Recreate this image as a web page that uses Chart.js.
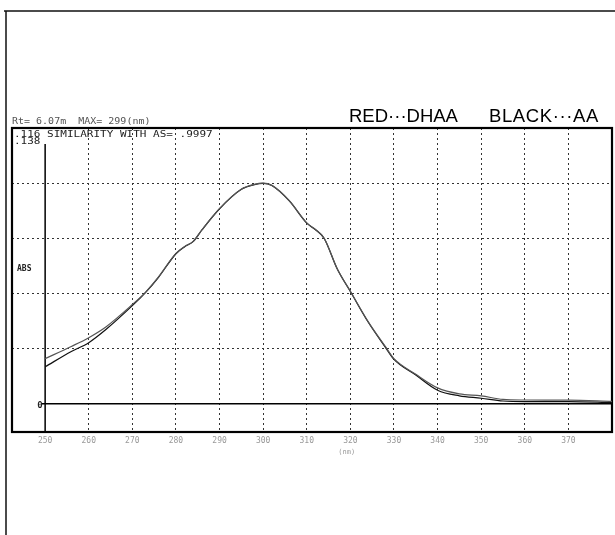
<!DOCTYPE html>
<html>
<head>
<meta charset="utf-8">
<script src="https://cdn.jsdelivr.net/npm/chart.js@4"></script>
<style>
  html, body { margin: 0; padding: 0; background: #fff; }
  #spectrum { display: block; }
</style>
</head>
<body>
<canvas id="spectrum" width="615" height="535"></canvas>
<script>
// wavelength (nm) and absorbance
const wavelengths = [250, 256, 260, 264, 270, 273, 276, 280, 282, 284, 286, 290, 295, 298, 300,
                     302, 306, 310, 312, 314, 317, 320, 324, 328, 330, 335, 340, 345, 350, 355,
                     360, 370, 380];
const dhaaAbs = [0.0226, 0.0287, 0.0331, 0.0386, 0.0497, 0.0558, 0.0635, 0.0753, 0.0787, 0.0814,
                 0.0872, 0.0977, 0.1074, 0.1098, 0.1104, 0.1093, 0.1016, 0.0905, 0.0872, 0.0828,
                 0.0675, 0.0563, 0.0414, 0.0287, 0.0226, 0.0148, 0.0080, 0.0050, 0.0040, 0.0022,
                 0.0019, 0.0018, 0.0012];
const aaAbs = [0.0185, 0.0262, 0.0306, 0.0373, 0.0491, 0.0556, 0.0633, 0.0751, 0.0786, 0.0813,
               0.0871, 0.0976, 0.1073, 0.1097, 0.1103, 0.1092, 0.1015, 0.0904, 0.0871, 0.0827,
               0.0674, 0.0562, 0.0412, 0.0284, 0.0222, 0.0144, 0.0068, 0.0040, 0.0028, 0.0014,
               0.0011, 0.0011, 0.0006];
const xTicks = [250, 260, 270, 280, 290, 300, 310, 320, 330, 340, 350, 360, 370];
const yTicks = [0, 0.0276, 0.0552, 0.0828, 0.1104, 0.138];

const toPoints = (ys) => wavelengths.map((w, i) => ({ x: w, y: ys[i] }));

// printer-style mono text, a bit squashed vertically
function monoText(ctx, text, x, y, size, color) {
    ctx.save();
    ctx.translate(x, y);
    ctx.scale(1, 0.8);
    ctx.fillStyle = color;
    ctx.font = size + 'px "DejaVu Sans Mono", monospace';
    ctx.fillText(text, 0, 0);
    ctx.restore();
}

// frame, solid axes and the printed annotations of the recorder
const recorderDecor = {
    id: 'recorderDecor',
    beforeDraw(chart) {
        const ctx = chart.ctx;
        ctx.save();
        ctx.fillStyle = '#fff';
        ctx.fillRect(0, 0, chart.width, chart.height);
        // page border
        ctx.strokeStyle = '#111';
        ctx.lineWidth = 1.5;
        ctx.beginPath();
        ctx.moveTo(4, 11);
        ctx.lineTo(chart.width, 11);
        ctx.moveTo(6, 11);
        ctx.lineTo(6, chart.height);
        ctx.stroke();
        ctx.restore();
    },
    beforeDatasetsDraw(chart) {
        const ctx = chart.ctx;
        const area = chart.chartArea;
        const x = chart.scales.x;
        const y = chart.scales.y;
        ctx.save();
        ctx.strokeStyle = '#000';
        ctx.lineWidth = 1.5;
        ctx.beginPath();
        const x0 = x.getPixelForValue(xTicks[0]);
        ctx.moveTo(x0, area.top + 16);
        ctx.lineTo(x0, area.bottom);
        const y0 = y.getPixelForValue(0);
        ctx.moveTo(x0 - 4, y0);
        ctx.lineTo(area.right, y0);
        ctx.stroke();
        ctx.lineWidth = 2.2;
        ctx.strokeRect(area.left, area.top, area.right - area.left, area.bottom - area.top);

        monoText(ctx, 'Rt= 6.07m  MAX= 299(nm)', area.left, area.top - 4, 10, '#555');
        monoText(ctx, '.116 SIMILARITY WITH AS= .9997', area.left + 2, area.top + 9, 11, '#222');
        monoText(ctx, '.138', area.left + 2, area.top + 16, 11, '#222');

        ctx.fillStyle = '#222';
        ctx.font = 'bold 8px "DejaVu Sans Mono", monospace';
        ctx.fillText('ABS', area.left + 5, y.getPixelForValue(yTicks[3]) + 33);
        ctx.font = 'bold 9px "DejaVu Sans Mono", monospace';
        ctx.fillText('0', x0 - 8, y0 + 4);
        ctx.fillStyle = '#999';
        ctx.font = '7px "DejaVu Sans Mono", monospace';
        ctx.fillText('(nm)', x.getPixelForValue(320) - 12, area.bottom + 22);

        // legend as typed on the sheet
        ctx.fillStyle = '#000';
        ctx.font = '18.5px "Liberation Sans", Arial, sans-serif';
        const ty = area.top - 6;
        ctx.fillText('RED\u00B7\u00B7\u00B7DHAA', 349, ty);
        ctx.letterSpacing = '0.6px';
        ctx.fillText('BLACK\u00B7\u00B7\u00B7AA', 489, ty);
        ctx.restore();
    }
};

new Chart(document.getElementById('spectrum'), {
    type: 'line',
    data: {
        datasets: [
            {
                label: 'DHAA',
                data: toPoints(dhaaAbs),
                borderColor: '#555',
                borderWidth: 1.2,
                pointRadius: 0,
                cubicInterpolationMode: 'monotone',
                fill: false
            },
            {
                label: 'AA',
                data: toPoints(aaAbs),
                borderColor: '#111',
                borderWidth: 1.2,
                pointRadius: 0,
                cubicInterpolationMode: 'monotone',
                fill: false
            }
        ]
    },
    options: {
        responsive: false,
        animation: false,
        layout: {
            padding: { left: 12, right: 3, top: 128, bottom: 0 }
        },
        scales: {
            x: {
                type: 'linear',
                min: 242.4,
                max: 380,
                afterBuildTicks: (scale) => { scale.ticks = xTicks.map(v => ({ value: v })); },
                afterFit: (scale) => { scale.height = 103; },
                border: { display: false, dash: [2, 3] },
                grid: {
                    color: (c) => c.tick && c.tick.value === xTicks[0] ? 'rgba(0,0,0,0)' : '#333',
                    lineWidth: 1,
                    drawTicks: false
                },
                ticks: {
                    color: '#999',
                    padding: 4,
                    font: { size: 8, family: '"DejaVu Sans Mono", monospace' }
                }
            },
            y: {
                min: -0.0141,
                max: 0.138,
                afterBuildTicks: (scale) => { scale.ticks = yTicks.map(v => ({ value: v })); },
                afterFit: (scale) => { scale.width = 0; },
                border: { display: false, dash: [2, 3] },
                grid: {
                    color: (c) => c.tick && (c.tick.value === 0 || c.tick.value === 0.138) ? 'rgba(0,0,0,0)' : '#333',
                    lineWidth: 1,
                    drawTicks: false
                },
                ticks: { display: false }
            }
        },
        plugins: {
            legend: { display: false },
            tooltip: { enabled: false }
        }
    },
    plugins: [recorderDecor]
});
</script>
</body>
</html>
